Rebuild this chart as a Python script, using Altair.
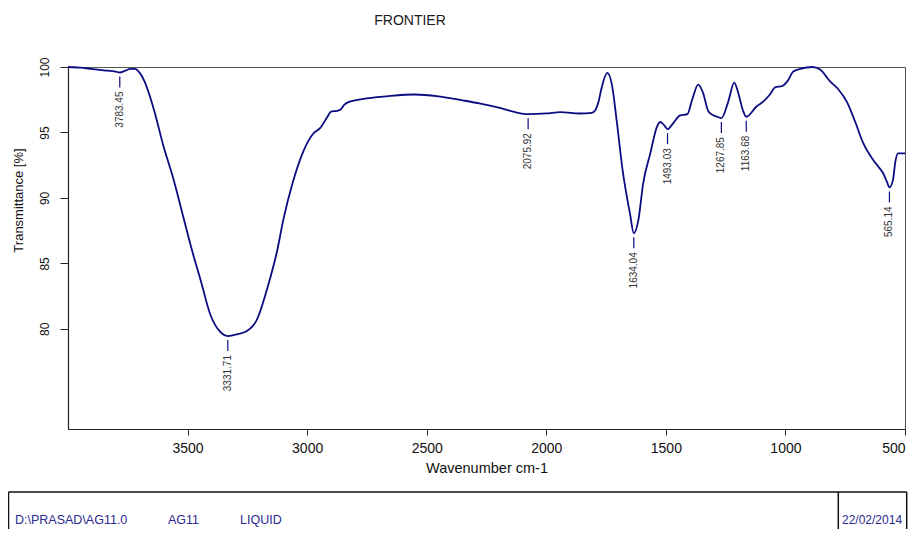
import altair as alt
import pandas as pd

# ---- spectrum ----
wavenumber = [4000, 3950, 3900, 3850, 3800, 3783.45, 3760, 3740, 3720, 3700, 3680, 3660,
              3640, 3600, 3560, 3520, 3480, 3445, 3405, 3365, 3331.71, 3290, 3250, 3210,
              3165, 3125, 3100, 3060, 3015, 2975, 2945, 2915, 2900, 2875, 2860, 2845, 2830,
              2750, 2650, 2550, 2450, 2350, 2275, 2190, 2130, 2075.92, 2000, 1940, 1860,
              1810, 1795, 1782, 1770, 1745, 1725, 1705, 1680, 1650, 1634.04, 1615, 1595,
              1565, 1537, 1523, 1505, 1493.03, 1470, 1440, 1410, 1390, 1365, 1345, 1322,
              1300, 1285, 1267.85, 1240, 1214, 1197, 1178, 1163.68, 1120, 1093, 1065, 1043,
              1013, 992, 967, 938, 888, 855, 813, 779, 742, 708, 675, 633, 612, 592, 575,
              565.14, 550, 541, 529, 508, 500]
transmittance = [100.0, 99.95, 99.85, 99.75, 99.65, 99.58, 99.72, 99.85, 99.85, 99.55, 98.9, 97.9,
                 96.7, 93.9, 91.5, 88.7, 85.9, 83.7, 81.1, 79.8, 79.45, 79.6, 79.85, 80.7,
                 83.2, 86.0, 88.3, 91.2, 93.6, 94.9, 95.35, 96.2, 96.6, 96.65, 96.75, 97.1, 97.3,
                 97.6, 97.8, 97.9, 97.75, 97.45, 97.2, 96.85, 96.55, 96.4, 96.45, 96.55, 96.45,
                 96.5, 96.7, 97.3, 98.3, 99.55, 98.6, 95.8, 92.0, 88.8, 87.3, 88.3, 91.1,
                 93.4, 95.45, 95.8, 95.5, 95.25, 95.7, 96.3, 96.4, 97.5, 98.65, 98.05, 96.6,
                 96.3, 96.2, 96.1, 97.3, 98.8, 98.0, 96.7, 96.2, 97.0, 97.35, 97.9, 98.45,
                 98.55, 98.9, 99.65, 99.85, 100.0, 99.8, 98.9, 98.3, 97.3, 95.8, 94.2, 92.9, 92.4, 91.9, 91.2,
                 90.8, 91.4, 92.7, 93.4, 93.4, 93.4]

# ---- labelled peaks ----
peak_wn = [3783.45, 3331.71, 2075.92, 1634.04, 1493.03, 1267.85, 1163.68, 565.14]
peak_t = [99.58, 79.45, 96.4, 87.3, 95.25, 96.1, 96.2, 90.8]
peak_text = ["3783.45", "3331.71", "2075.92", "1634.04", "1493.03", "1267.85", "1163.68", "565.14"]

x_ticks = [3500, 3000, 2500, 2000, 1500, 1000, 500]
y_ticks = [80, 85, 90, 95, 100]

title_text = "FRONTIER"
footer_fields = ["D:\\PRASAD\\AG11.0", "AG11", "LIQUID"]
footer_date = "22/02/2014"

FONT = "Liberation Sans"
NAVY = "#0b0b82"
FOOT = "#2a2a90"

spec = pd.DataFrame({"wn": wavenumber, "T": transmittance})
peaks = pd.DataFrame({"wn": peak_wn, "T": peak_t, "label": peak_text})

xs = alt.Scale(domain=[4000, 500], nice=False, zero=False)
ys = alt.Scale(domain=[72.35, 100], nice=False, zero=False)

line = alt.Chart(spec).mark_line(color=NAVY, strokeWidth=1.8, interpolate="monotone").encode(
    x=alt.X("wn:Q", scale=xs, title="Wavenumber cm-1",
            axis=alt.Axis(values=x_ticks, format="d", tickSize=6, labelPadding=6,
                          labelFontSize=14, titleFontSize=14.5, titlePadding=6)),
    y=alt.Y("T:Q", scale=ys, title="Transmittance [%]",
            axis=alt.Axis(values=y_ticks, format="d", tickSize=8, labelAngle=270,
                          labelAlign="center", labelBaseline="bottom", labelPadding=9,
                          labelFontSize=12, titleFontSize=13, titleX=-43, titleY=133,
                          titleAngle=270, titleBaseline="bottom", titleAlign="center")),
)

dash = alt.Chart(peaks).mark_rule(color=NAVY, strokeWidth=1.2, yOffset=4, y2Offset=15).encode(
    x=alt.X("wn:Q", scale=xs), y=alt.Y("T:Q", scale=ys), y2="T:Q"
)

plabels = alt.Chart(peaks).mark_text(angle=270, align="right", baseline="middle", dx=-19,
                                     fontSize=10, font=FONT, color="#333333").encode(
    x=alt.X("wn:Q", scale=xs), y=alt.Y("T:Q", scale=ys), text="label:N"
)

one = alt.Data(values=[{"k": 0}])

title = alt.Chart(one).mark_text(align="center", baseline="alphabetic", fontSize=14,
                                  font=FONT, color="#1a1a1a").encode(
    x=alt.value(342), y=alt.value(-42), text=alt.value(title_text))

box_top = alt.Chart(one).mark_rule(color="#111111", strokeWidth=1.5).encode(
    x=alt.value(-59.5), x2=alt.value(838.7), y=alt.value(425))
box_left = alt.Chart(one).mark_rule(color="#111111", strokeWidth=1.5).encode(
    x=alt.value(-59.5), y=alt.value(425), y2=alt.value(470))
box_div = alt.Chart(one).mark_rule(color="#111111", strokeWidth=1.5).encode(
    x=alt.value(770.3), y=alt.value(425), y2=alt.value(470))
box_right = alt.Chart(one).mark_rule(color="#111111", strokeWidth=1.5).encode(
    x=alt.value(838.7), y=alt.value(425), y2=alt.value(470))

foot_x = [-53, 100, 172]
foot_layers = []
for txt, fx in zip(footer_fields, foot_x):
    foot_layers.append(
        alt.Chart(one).mark_text(align="left", baseline="alphabetic", fontSize=12.5,
                                 font=FONT, color=FOOT).encode(
            x=alt.value(fx), y=alt.value(456.5), text=alt.value(txt)))
foot_layers.append(
    alt.Chart(one).mark_text(align="left", baseline="alphabetic", fontSize=12,
                             font=FONT, color=FOOT).encode(
        x=alt.value(774), y=alt.value(456.5), text=alt.value(footer_date)))

chart = alt.layer(line, dash, plabels, title, box_top, box_left, box_div, box_right,
                  *foot_layers).properties(
    width=837, height=362,
    autosize=alt.AutoSizeParams(type="none"),
    padding={"left": 60, "top": 59, "right": 4, "bottom": 100},
).configure_view(stroke="#555555", strokeWidth=1).configure_axis(
    grid=False, domainColor="#222222", tickColor="#222222", labelColor="#111111",
    titleColor="#111111", labelFont=FONT, titleFont=FONT, titleFontWeight="normal",
    domainWidth=1.2,
)

chart.save("out.html", embed_options={"renderer": "svg", "actions": False})
